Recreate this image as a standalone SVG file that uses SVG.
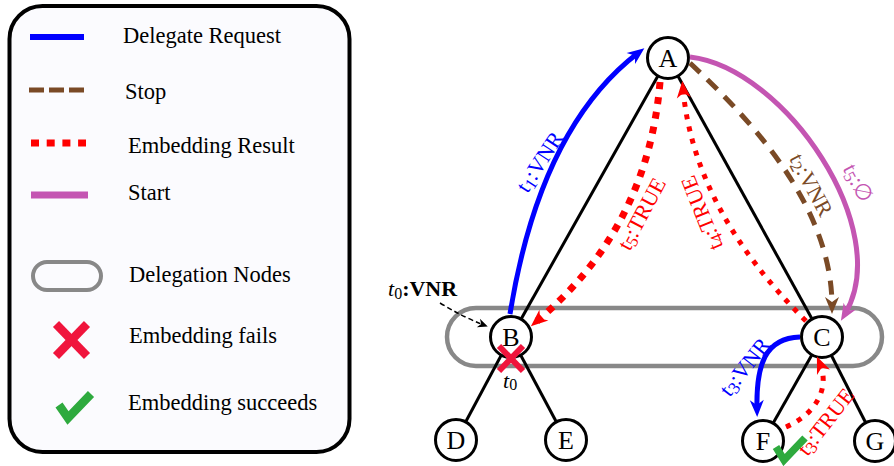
<svg xmlns="http://www.w3.org/2000/svg" width="894" height="466" viewBox="0 0 894 466">
  <style>
    .lg { font-family: "Liberation Serif", "Times New Roman", serif; font-size: 22.5px; fill: #000; }
    .nd circle { fill: #fff; stroke: #000; stroke-width: 3; }
    .nd text { font-family: "Liberation Serif", "Times New Roman", serif; font-size: 26px; text-anchor: middle; fill: #000; }
    .tree line { stroke: #000; stroke-width: 3; }
    .lbl { font-family: "Liberation Serif", "Times New Roman", serif; font-size: 22px; text-anchor: middle; }
    .sub { font-size: 17px; }
    .blue { fill: none; stroke: #0000ff; stroke-width: 5; }
    .brown { fill: none; stroke: #7a4a26; stroke-width: 5; stroke-dasharray: 14 10; }
    .red { fill: none; stroke: #ff0000; stroke-width: 7; stroke-dasharray: 7 8; }
    .red-thin { fill: none; stroke: #ff0000; stroke-width: 5; stroke-dasharray: 5 7.5; }
    .violet { fill: none; stroke: #c455b2; stroke-width: 5; }
    .pill { fill: none; stroke: #888; stroke-width: 4.5; }
    .cross { stroke: #f0143c; stroke-linecap: butt; }
    .tick { fill: none; stroke: #2eaa3e; stroke-linejoin: miter; stroke-linecap: butt; }
  </style>
  <defs>
    <marker id="ah-blue" viewBox="-20 -9 22 18" refX="-8" refY="0" markerWidth="22" markerHeight="18" markerUnits="userSpaceOnUse" orient="auto">
      <path d="M0,0 L-17,-7 L-12,0 L-17,7 Z" fill="#0000ff"/>
    </marker>
    <marker id="ah-red" viewBox="-20 -9 22 18" refX="-8" refY="0" markerWidth="22" markerHeight="18" markerUnits="userSpaceOnUse" orient="auto">
      <path d="M0,0 L-17,-7 L-12,0 L-17,7 Z" fill="#ff0000"/>
    </marker>
    <marker id="ah-brown" viewBox="-20 -9 22 18" refX="-8" refY="0" markerWidth="22" markerHeight="18" markerUnits="userSpaceOnUse" orient="auto">
      <path d="M0,0 L-17,-7 L-12,0 L-17,7 Z" fill="#7a4a26"/>
    </marker>
    <marker id="ah-violet" viewBox="-20 -9 22 18" refX="-8" refY="0" markerWidth="22" markerHeight="18" markerUnits="userSpaceOnUse" orient="auto">
      <path d="M0,0 L-17,-7 L-12,0 L-17,7 Z" fill="#c455b2"/>
    </marker>
    <marker id="ah-black" viewBox="-12 -6 14 12" refX="-4" refY="0" markerWidth="14" markerHeight="12" markerUnits="userSpaceOnUse" orient="auto">
      <path d="M0,0 L-10,-4.5 L-7,0 L-10,4.5 Z" fill="#000"/>
    </marker>
  </defs>

  <rect width="894" height="466" fill="#fff"/>

  <!-- legend -->
  <g id="legend">
    <rect x="9.5" y="6" width="340" height="446" rx="33" fill="#fbfbfe" stroke="#000" stroke-width="4"/>
    <line x1="30" y1="37" x2="84" y2="37" stroke="#0000ff" stroke-width="6"/>
    <text class="lg" x="123" y="43">Delegate Request</text>
    <line x1="29" y1="90" x2="84" y2="90" stroke="#7a4a26" stroke-width="5" stroke-dasharray="15 5"/>
    <text class="lg" x="125" y="99">Stop</text>
    <line x1="31" y1="143" x2="86" y2="143" stroke="#ff0000" stroke-width="7" stroke-dasharray="8 7.7"/>
    <text class="lg" x="128" y="152.5">Embedding Result</text>
    <line x1="31" y1="195" x2="88" y2="195" stroke="#c455b2" stroke-width="7"/>
    <text class="lg" x="128" y="200">Start</text>
    <rect x="33" y="262" width="68" height="28" rx="14" fill="none" stroke="#888" stroke-width="4"/>
    <text class="lg" x="129" y="282">Delegation Nodes</text>
    <g class="cross" stroke-width="8.5">
      <line x1="56" y1="324" x2="87" y2="356"/>
      <line x1="87" y1="324" x2="56" y2="356"/>
    </g>
    <text class="lg" x="129" y="343">Embedding fails</text>
    <polyline class="tick" stroke-width="8.5" points="59,405 68,418 91,394"/>
    <text class="lg" x="128" y="410">Embedding succeeds</text>
  </g>

  <!-- delegation group outline -->
  <rect class="pill" x="447" y="308" width="435" height="58" rx="29"/>

  <!-- tree edges -->
  <g id="tree-edges" class="tree">
    <line x1="668" y1="58" x2="511" y2="337"/>
    <line x1="668" y1="58" x2="822" y2="337"/>
    <line x1="511" y1="337" x2="456" y2="440"/>
    <line x1="511" y1="337" x2="566" y2="440"/>
    <line x1="822" y1="337" x2="763" y2="441"/>
    <line x1="822" y1="337" x2="875" y2="441"/>
  </g>

  <!-- nodes -->
  <g id="node-A" class="nd"><circle cx="668" cy="58" r="20.5"/><text x="668" y="67">A</text></g>
  <g id="node-B" class="nd"><circle cx="511" cy="337" r="20.5"/><text x="511" y="346">B</text></g>
  <g id="node-C" class="nd"><circle cx="822" cy="337" r="20.5"/><text x="822" y="346">C</text></g>
  <g id="node-D" class="nd"><circle cx="456" cy="440" r="20.5"/><text x="456" y="449">D</text></g>
  <g id="node-E" class="nd"><circle cx="566" cy="440" r="20.5"/><text x="566" y="449">E</text></g>
  <g id="node-F" class="nd"><circle cx="763" cy="441" r="20.5"/><text x="763" y="450">F</text></g>
  <g id="node-G" class="nd"><circle cx="875" cy="441" r="20.5"/><text x="875" y="450">G</text></g>

  <!-- message connectors -->
  <g id="connectors">
    <path class="blue" d="M510,314 Q540,128 638,53" marker-end="url(#ah-blue)"/>
    <path class="red" d="M660,82 Q648,228 537,321" marker-end="url(#ah-red)"/>
    <path class="red-thin" d="M806,321 Q694,210 683,89" marker-end="url(#ah-red)"/>
    <path class="brown" d="M690,63 C740,110 832,200 832,306" marker-end="url(#ah-brown)"/>
    <path class="violet" d="M690,57 C785,68 895,230 845,314" marker-end="url(#ah-violet)"/>
    <path class="blue" d="M800,337 C765,338 756,365 757,409" marker-end="url(#ah-blue)"/>
    <path class="red-thin" d="M786,427 C816,414 830,388 820,364" marker-end="url(#ah-red)"/>
    <path d="M440,303 Q465,318 484,325" fill="none" stroke="#000" stroke-width="1.5" stroke-dasharray="5 3" marker-end="url(#ah-black)"/>
  </g>

  <!-- connector labels -->
  <g id="labels">
    <text class="lbl" fill="#0000ff" transform="translate(540,162) rotate(-57)" y="7">t<tspan class="sub" dy="3">1</tspan><tspan dy="-3">:VNR</tspan></text>
    <text class="lbl" fill="#ff0000" transform="translate(642,214) rotate(-62)" y="7">t<tspan class="sub" dy="3">5</tspan><tspan dy="-3">:TRUE</tspan></text>
    <text class="lbl" fill="#ff0000" transform="translate(702,213) rotate(-112)" y="7">t<tspan class="sub" dy="3">4</tspan><tspan dy="-3">:TRUE</tspan></text>
    <text class="lbl" fill="#7a4a26" transform="translate(811,185) rotate(62)" y="7">t<tspan class="sub" dy="3">2</tspan><tspan dy="-3">:VNR</tspan></text>
    <text class="lbl" fill="#c455b2" transform="translate(858,183) rotate(62)" y="7">t<tspan class="sub" dy="3">5</tspan><tspan dy="-3">:∅</tspan></text>
    <text class="lbl" fill="#0000ff" transform="translate(745,367) rotate(-52)" y="7">t<tspan class="sub" dy="3">3</tspan><tspan dy="-3">:VNR</tspan></text>
    <text class="lbl" fill="#ff0000" transform="translate(826,422) rotate(-52)" y="7">t<tspan class="sub" dy="3">3</tspan><tspan dy="-3">:TRUE</tspan></text>
    <text font-family="Liberation Serif, Times New Roman, serif" font-size="22" x="388" y="296"><tspan font-style="italic">t</tspan><tspan font-size="16" dy="3">0</tspan><tspan dy="-3" font-weight="bold">:VNR</tspan></text>
    <text font-family="Liberation Serif, Times New Roman, serif" font-size="22" x="503" y="388"><tspan font-style="italic">t</tspan><tspan font-size="16" dy="2">0</tspan></text>
  </g>

  <!-- outcome marks -->
  <g id="mark-fail" class="cross" stroke-width="6">
    <line x1="499" y1="346" x2="523" y2="371"/>
    <line x1="523" y1="346" x2="499" y2="371"/>
  </g>
  <polyline id="mark-ok" class="tick" stroke-width="7.5" points="776,447 784,460 805,438"/>
</svg>
